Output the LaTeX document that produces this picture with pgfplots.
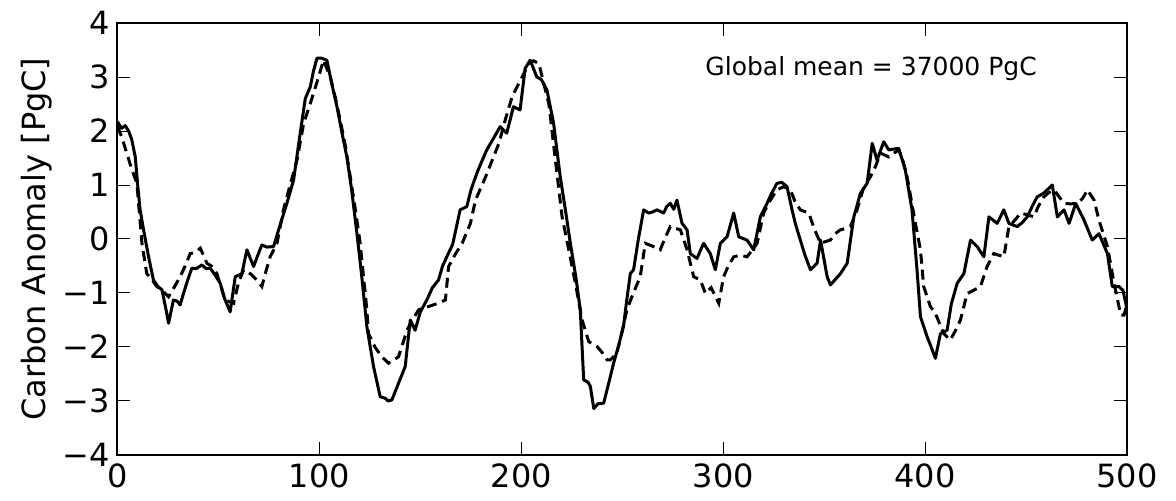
\documentclass[border=0pt]{standalone}
\usepackage{pgfplots}
\pgfplotsset{compat=1.18}
\usepackage{fontspec}
\setmainfont{DejaVu Sans}
\begin{document}
\begin{tikzpicture}
\useasboundingbox (-58.75pt,-23pt) rectangle (529.25pt,227.5pt);
\begin{axis}[
  at={(0,0)}, anchor=south west,
  scale only axis, width=504.75pt, height=216pt,
  xmin=0, xmax=500, ymin=-4, ymax=4,
  xtick={0,100,200,300,400,500},
  ytick={-4,-3,-2,-1,0,1,2,3,4},
  yticklabels={−4,−3,−2,−1,0,1,2,3,4},
  /pgf/number format/assume math mode=true,
  tick align=inside,
  major tick length=6.3pt,
  every tick/.style={black, line width=0.5pt},
  axis line style={line width=1pt},
  tick label style={font=\fontsize{16}{19}\selectfont},
  xticklabel style={yshift=-1pt},
  yticklabel style={xshift=-0.5pt},
  ylabel={Carbon Anomaly [PgC]},
  every axis y label/.style={at={(axis description cs:-0.0573,0.5)}, rotate=90, anchor=south, font=\fontsize{16}{19}\selectfont},
]
\addplot[black, line width=1.5pt, line join=round] coordinates {
(0,2.17) (2,2.05) (3.8,2.1) (5.5,2.0) (7,1.85) (8.8,1.52) (10,1.0) (11.2,0.54) (12.9,0.17) (15.4,-0.33) (17.8,-0.76) (20,-0.88) (22,-0.94) (24,-1.3) (25.3,-1.56) (27.7,-1.13) (29.5,-1.15) (31,-1.22) (34,-0.85) (36.8,-0.54) (39,-0.55) (41.8,-0.48) (44,-0.55) (45.9,-0.54) (48,-0.65) (50.9,-0.82) (53,-1.1) (55.8,-1.35) (58.3,-0.70) (61.6,-0.64) (64.1,-0.2) (67.4,-0.51) (69.5,-0.3) (71.5,-0.11) (74,-0.15) (77.3,-0.14) (79.8,0.17) (83.9,0.66) (87.2,1.09) (90.5,1.96) (93,2.6) (95.5,2.82) (97,3.1) (98.8,3.35) (101,3.35) (103.7,3.31) (106,2.9) (108.7,2.45) (111,2.0) (113.6,1.52) (116,0.9) (118.6,0.1) (121,-0.7) (123.5,-1.62) (126.8,-2.36) (130.1,-2.92) (132.6,-2.95) (134,-3.0) (135.9,-2.98) (139.2,-2.67) (142.5,-2.36) (145,-1.5) (147.4,-1.69) (150,-1.35) (153.2,-1.13) (156,-0.9) (159,-0.76) (161,-0.5) (163.1,-0.33) (166,-0.1) (169.7,0.54) (173,0.6) (175,0.9) (178,1.22) (180,1.4) (182.9,1.65) (186,1.85) (189.5,2.08) (192.8,1.96) (196.1,2.45) (199.4,2.39) (201.9,3.16) (204.4,3.31) (207.7,3.0) (210,2.95) (212.7,2.76) (216,2.14) (219.3,1.15) (222,0.5) (224.3,-0.08) (227,-0.7) (229.2,-1.31) (230.9,-2.61) (233,-2.65) (234.2,-2.73) (235.9,-3.14) (238,-3.05) (240.8,-3.04) (244.1,-2.55) (245.7,-2.3) (248,-2.0) (250.6,-1.62) (252,-1.2) (254,-0.64) (255.6,-0.57) (258,0.0) (260.6,0.54) (263.1,0.48) (265,0.5) (267.2,0.54) (270.5,0.48) (272,0.6) (273.8,0.66) (275.5,0.55) (277.1,0.72) (279.6,0.29) (282.1,0.17) (283.7,-0.27) (287,-0.36) (290.3,-0.08) (293.6,-0.27) (296.1,-0.57) (298.6,-0.08) (301.9,0.04) (305.2,0.48) (307.7,0.04) (311.8,-0.02) (315.1,-0.2) (318.4,0.41) (321.7,0.66) (324,0.85) (326.6,1.03) (329,1.05) (331.6,0.97) (334.1,0.54) (335.7,0.29) (338.2,-0.02) (340.5,-0.3) (343.2,-0.57) (346.5,-0.45) (348.2,-0.02) (351.5,-0.7) (353.1,-0.85) (355.5,-0.75) (358.1,-0.64) (361.4,-0.45) (364.7,0.41) (368,0.85) (371.3,1.03) (373.8,1.77) (376.2,1.46) (379.5,1.8) (382,1.65) (386.9,1.68) (390.2,1.28) (393.5,0.54) (396,-0.57) (397.7,-1.44) (401,-1.81) (403,-2.0) (405.1,-2.21) (407.6,-1.75) (410.9,-1.69) (413,-1.2) (415.9,-0.82) (419.2,-0.64) (422.5,-0.02) (425.8,-0.14) (429.1,-0.33) (431.6,0.41) (435.7,0.29) (439,0.54) (441.5,0.29) (445.6,0.23) (448,0.3) (450.6,0.41) (453,0.6) (455.5,0.78) (458.8,0.85) (463,1.0) (465.5,0.41) (468.8,0.54) (471.3,0.29) (474.6,0.66) (478.7,0.35) (482.8,-0.02) (486.1,0.1) (490.3,-0.27) (492.7,-0.88) (496,-0.88) (498,-0.95) (500,-1.3)
};
\addplot[black, line width=1.5pt, dash pattern=on 5pt off 3pt] coordinates {
(0,2.08) (2,1.9) (4.6,1.59) (7,1.3) (9.6,1.03) (12.1,-0.08) (14.5,-0.64) (17,-0.75) (19.5,-0.88) (22,-0.95) (25.3,-1.07) (28,-0.9) (31,-0.7) (33.5,-0.5) (36,-0.27) (38.5,-0.25) (41,-0.17) (44.3,-0.45) (46.5,-0.5) (49.2,-0.64) (53.3,-1.13) (57.5,-1.19) (60,-0.8) (62.5,-0.57) (66,-0.65) (69,-0.76) (71.5,-0.88) (73.5,-0.6) (75.6,-0.33) (79,-0.08) (82.2,0.54) (85.5,1.0) (88.9,1.46) (92.2,2.14) (95.5,2.51) (97.5,2.75) (99.6,3.0) (102,3.31) (105.4,3.0) (108,2.6) (110.3,2.2) (113,1.7) (115.3,1.15) (118,0.5) (120.2,-0.08) (123.5,-1.31) (124.3,-1.75) (127.5,-2.0) (130.9,-2.18) (134.2,-2.3) (136.5,-2.25) (139.2,-2.18) (143.4,-1.69) (146,-1.5) (149.2,-1.31) (154.1,-1.25) (158,-1.2) (162.4,-1.13) (164,-0.51) (167,-0.3) (170.7,-0.08) (174.8,0.29) (177.3,0.72) (182.3,1.15) (185.5,1.45) (188.9,1.77) (192,2.2) (195.5,2.64) (197.1,2.76) (200.4,3.0) (203.7,3.25) (206,3.3) (208.7,3.25) (211,2.9) (213.6,2.51) (216.9,1.46) (220.2,0.41) (223.5,-0.2) (226.8,-0.82) (230.1,-1.5) (233.4,-1.9) (237.5,-1.99) (240,-2.1) (242.5,-2.24) (244,-2.24) (247.3,-2.12) (250,-1.7) (252.3,-1.31) (255.5,-1.0) (258.9,-0.7) (261.4,-0.08) (265.5,-0.14) (268.8,-0.2) (271,0.0) (273.8,0.23) (276,0.2) (278.8,0.17) (282.1,-0.2) (285.4,-0.7) (288.7,-0.76) (291.2,-1.01) (294,-0.9) (297.8,-1.19) (300.2,-0.7) (302.5,-0.5) (305.2,-0.33) (308.5,-0.3) (311.8,-0.33) (314.5,-0.2) (316.8,-0.08) (320,0.48) (323,0.7) (326.6,0.91) (330,0.97) (333.3,0.91) (335.5,0.7) (338.2,0.54) (342.4,0.48) (345,0.2) (348.2,-0.08) (350.5,-0.05) (353.1,-0.02) (355.5,0.1) (358.1,0.17) (361,0.2) (363,0.23) (366.3,0.54) (369.7,0.97) (372.9,1.15) (375.5,1.35) (377.9,1.59) (382,1.52) (386.9,1.65) (389,1.45) (391.1,1.15) (395.2,0.29) (397.7,-0.2) (399.3,-0.88) (402.6,-1.25) (405.1,-1.38) (407,-1.55) (409.2,-1.75) (412.5,-1.87) (415,-1.7) (417.5,-1.5) (420.8,-1.01) (424,-0.95) (427.4,-0.88) (430.7,-0.51) (434,-0.27) (436.5,-0.3) (439,-0.33) (441.5,0.23) (444.5,0.35) (447.3,0.48) (450.5,0.45) (453.9,0.41) (456,0.6) (458.8,0.78) (461,0.85) (463.8,0.91) (466,0.8) (468.8,0.66) (472,0.65) (475.4,0.66) (478,0.75) (480.4,0.91) (483.7,0.72) (486.1,0.35) (490.3,-0.14) (493.6,-0.82) (496.9,-1.41) (498.5,-1.41) (500,-1.2)
};
\node[anchor=base west, inner sep=0pt, font=\fontsize{12.5}{15}\selectfont] at (axis cs:291,3.02) {Global mean = 37000 PgC};
\end{axis}
\end{tikzpicture}
\end{document}
